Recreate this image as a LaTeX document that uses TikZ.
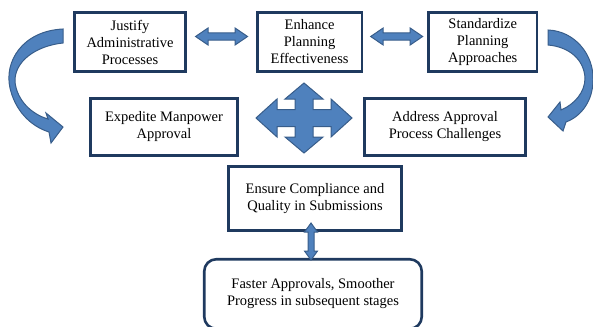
\documentclass[tikz,border=0pt]{standalone}
\usepackage{fontspec}
\setmainfont{Liberation Serif}
\usetikzlibrary{positioning,calc}

\definecolor{boxline}{HTML}{1F3A5F}
\definecolor{arrowfill}{HTML}{4F81BD}
\definecolor{arrowline}{HTML}{385D8A}

\begin{document}
\begin{tikzpicture}[
    x=1pt, y=-1pt,
    font=\fontsize{14.5}{17}\selectfont,
    box/.style={rectangle, draw=boxline, line width=2.6pt, align=center, inner sep=2pt},
    outcome/.style={box, rounded corners=12pt},
    blockarrow/.style={draw=arrowline, fill=arrowfill, line width=1pt}
]
    \useasboundingbox (0,0) rectangle (593,326);

    % Top row
    \node[box, minimum width=111.5pt, minimum height=58.5pt] (just) at (130,42) {Justify\\Administrative\\Processes};
    \node[box, minimum width=104.5pt, minimum height=58.5pt, right=69pt of just] (enh) {Enhance\\Planning\\Effectiveness};
    \node[box, minimum width=108.5pt, minimum height=58.5pt, right=64pt of enh] (std) {Standardize\\Planning\\Approaches};

    % Middle row
    \node[box, minimum width=147.5pt, minimum height=57.5pt] (exp) at (164,127) {Expedite Manpower\\Approval};
    \node[box, minimum width=161.5pt, minimum height=57.5pt] (addr) at (445,127) {Address Approval\\Process Challenges};

    % Bottom
    \node[box, minimum width=173.5pt, minimum height=64.5pt] (ens) at (315,198.5) {Ensure Compliance and\\Quality in Submissions};
    \node[outcome, minimum width=217.5pt, minimum height=69.5pt] (fast) at (313,294) {Faster Approvals, Smoother\\Progress in subsequent stages};

    % Double arrows between the top boxes
    \coordinate (je) at ($(just.east)!0.5!(enh.west)+(0,-5.5)$);
    \coordinate (es) at ($(enh.east)!0.5!(std.west)+(1.5,-5.5)$);
    \foreach \c in {je,es} {
        \begin{scope}[shift={(\c)}]
            \draw[blockarrow] (-26,0) -- (-13.5,-8.5) -- (-13.5,-3.7) -- (13.5,-3.7) -- (13.5,-8.5) -- (26,0)
                -- (13.5,8.5) -- (13.5,3.7) -- (-13.5,3.7) -- (-13.5,8.5) -- cycle;
        \end{scope}
    }

    % Double arrow down to the outcome
    \coordinate (ef) at ($(ens.south)!0.5!(fast.north)+(-3,-3.5)$);
    \begin{scope}[shift={(ef)}]
        \draw[blockarrow] (0,-18.5) -- (6.5,-9.5) -- (3,-9.5) -- (3,9.5) -- (6.5,9.5) -- (0,18.5)
            -- (-6.5,9.5) -- (-3,9.5) -- (-3,-9.5) -- (-6.5,-9.5) -- cycle;
    \end{scope}

    % Four-way arrow
    \begin{scope}[shift={(304,118)}]
        \draw[blockarrow] (-48,0) -- (-27,-19) -- (-27,-8.5) -- (-9,-8.5) -- (-9,-19) -- (-19,-19) -- (0,-35)
            -- (19,-19) -- (9,-19) -- (9,-8.5) -- (27,-8.5) -- (27,-19) -- (48,0)
            -- (27,19) -- (27,8.5) -- (9,8.5) -- (9,19) -- (19,19) -- (0,35)
            -- (-19,19) -- (-9,19) -- (-9,8.5) -- (-27,8.5) -- (-27,19) -- cycle;
    \end{scope}

    % Curved arrows
    \draw[blockarrow] (63,29) .. controls (22,31) and (4,62) .. (10,88)
        .. controls (15,110) and (30,126) .. (49,132) -- (51,143) -- (63,127) -- (46,113) -- (48,119)
        .. controls (31,114) and (17,100) .. (15,82)
        .. controls (14,62) and (35,46) .. (63,43) -- cycle;
    \draw[blockarrow] (548,30) .. controls (575,31) and (594,55) .. (593,80)
        .. controls (593,100) and (582,116) .. (566,122) -- (563,131) -- (548,117) -- (560,102) -- (561,110)
        .. controls (575,104) and (585,92) .. (585,78)
        .. controls (584,60) and (570,47) .. (548,45) -- cycle;

\end{tikzpicture}
\end{document}
